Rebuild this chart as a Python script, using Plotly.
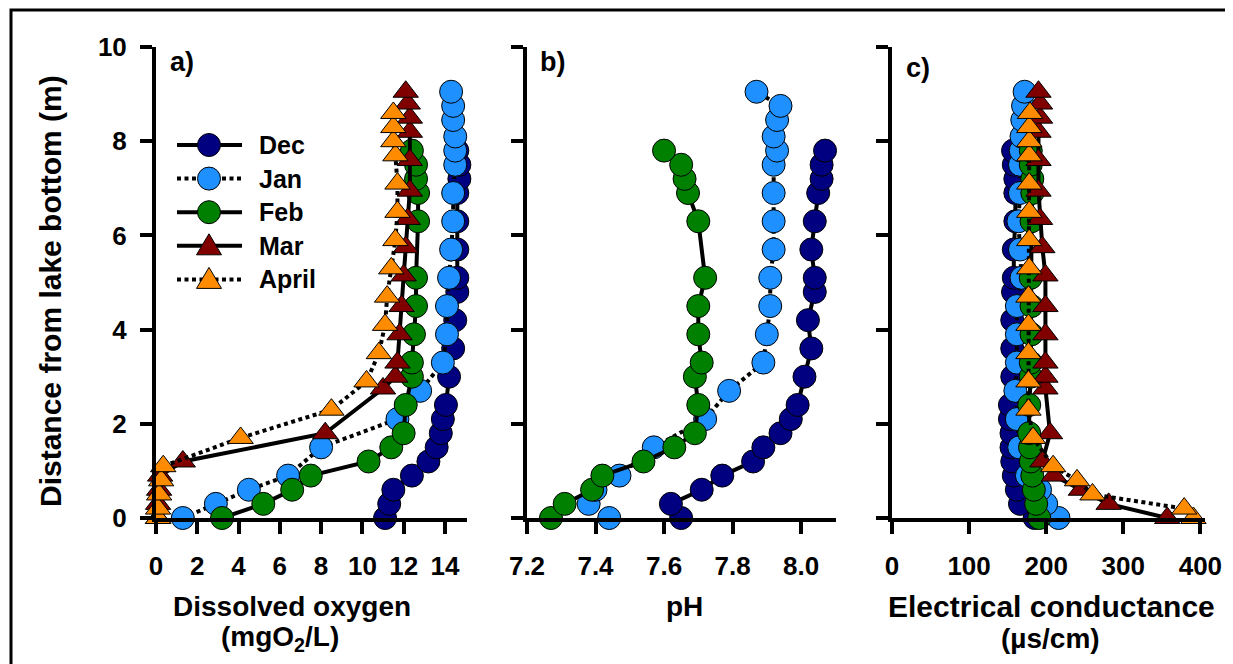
import plotly.graph_objects as go

# The page body has an 8px margin, so the figure is 8px smaller than the window
# and every layout position below is given in window pixels minus that offset.
WIN_W, WIN_H = 1233, 664
OFF = 8
W, H = WIN_W - OFF, WIN_H - OFF
FONT = "Arial, Liberation Sans, sans-serif"

# ---------------- data ----------------
months = ["Dec", "Jan", "Feb", "Mar", "April"]
colors = ["#000080", "#1E90FF", "#008000", "#800000", "#FF8C00"]
symbols = ["circle", "circle", "circle", "triangle-up", "triangle-up"]
dashes = ["solid", "4px,3.5px", "solid", "solid", "4px,3.5px"]

dec_depth = [0, 0.3, 0.6, 0.9, 1.2, 1.5, 1.8, 2.1, 2.4, 3.0, 3.6, 4.2, 4.8, 5.1, 5.7, 6.3, 6.9, 7.2, 7.5, 7.8]
dec_do = [11.1, 11.3, 11.5, 12.4, 13.2, 13.6, 13.8, 13.9, 14.05, 14.2, 14.4, 14.5, 14.6, 14.6, 14.6, 14.6, 14.6, 14.7, 14.7, 14.6]
dec_ph = [7.65, 7.62, 7.71, 7.77, 7.86, 7.89, 7.94, 7.97, 7.99, 8.01, 8.03, 8.02, 8.04, 8.04, 8.03, 8.04, 8.05, 8.06, 8.06, 8.07]
dec_ec = [185, 166, 162, 158, 156, 155, 155, 153, 153, 156, 156, 156, 157, 158, 158, 160, 160, 160, 158, 157]

jan_depth = [0, 0.3, 0.6, 0.9, 1.5, 2.1, 2.7, 3.3, 3.9, 4.5, 5.1, 5.7, 6.3, 6.9, 7.5, 7.8, 8.1, 8.45, 8.75, 9.05]
jan_do = [1.3, 2.9, 4.5, 6.4, 8.0, 11.7, 12.8, 13.9, 14.1, 14.1, 14.2, 14.3, 14.4, 14.4, 14.5, 14.5, 14.5, 14.4, 14.4, 14.3]
jan_ph = [7.44, 7.38, 7.40, 7.47, 7.57, 7.72, 7.79, 7.89, 7.90, 7.91, 7.91, 7.92, 7.92, 7.92, 7.92, 7.93, 7.92, 7.93, 7.94, 7.87]
jan_ec = [216, 200, 192, 175, 165, 162, 160, 162, 162, 162, 168, 166, 164, 166, 166, 167, 168, 169, 170, 172]

feb_depth = [0, 0.3, 0.6, 0.9, 1.2, 1.5, 1.8, 2.4, 3.0, 3.3, 3.9, 4.5, 5.1, 6.3, 6.9, 7.2, 7.5, 7.8]
feb_do = [3.2, 5.2, 6.6, 7.5, 10.3, 11.4, 12.0, 12.1, 12.4, 12.4, 12.5, 12.6, 12.6, 12.7, 12.7, 12.6, 12.6, 12.4]
feb_ph = [7.27, 7.31, 7.39, 7.42, 7.54, 7.63, 7.69, 7.70, 7.69, 7.71, 7.70, 7.70, 7.72, 7.70, 7.67, 7.66, 7.65, 7.60]
feb_ec = [191, 187, 184, 182, 180, 179, 178, 178, 180, 180, 181, 181, 180, 181, 182, 182, 180, 180]

mar_depth = [0, 0.3, 0.6, 0.9, 1.2, 1.8, 2.75, 3.0, 3.3, 3.9, 4.5, 5.15, 5.75, 6.35, 6.95, 7.6, 8.2, 8.5, 8.8, 9.05]
mar_do = [0.1, 0.1, 0.15, 0.2, 1.3, 8.2, 11.0, 11.6, 11.7, 11.8, 11.9, 12.0, 12.1, 12.2, 12.3, 12.3, 12.3, 12.3, 12.2, 12.1]
mar_ec = [357, 281, 245, 210, 195, 205, 199, 199, 199, 199, 199, 199, 195, 192, 190, 190, 190, 192, 192, 190]

apr_depth = [0, 0.2, 0.5, 0.8, 1.1, 1.7, 2.3, 2.9, 3.5, 4.1, 4.7, 5.3, 5.9, 6.5, 7.1, 7.7, 8.0, 8.3, 8.6]
apr_do = [0.1, 0.1, 0.15, 0.25, 0.35, 4.1, 8.5, 10.2, 10.8, 11.1, 11.2, 11.4, 11.6, 11.7, 11.7, 11.6, 11.5, 11.5, 11.5]
apr_ec = [391, 379, 260, 240, 209, 183, 177, 177, 177, 177, 177, 178, 178, 178, 178, 178, 178, 178, 179]

y_ticks = [0, 2, 4, 6, 8, 10]
do_ticks = [0, 2, 4, 6, 8, 10, 12, 14]
ph_ticks = [7.2, 7.4, 7.6, 7.8, 8.0]
ph_ticktext = ["7.2", "7.4", "7.6", "7.8", "8.0"]
ec_ticks = [0, 100, 200, 300, 400]

depths = [dec_depth, jan_depth, feb_depth, mar_depth, apr_depth]
do_vals = [dec_do, jan_do, feb_do, mar_do, apr_do]
ph_vals = [dec_ph, jan_ph, feb_ph, None, None]
ec_vals = [dec_ec, jan_ec, feb_ec, mar_ec, apr_ec]

# ---------------- figure ----------------
def px(x):
    return (x - OFF) / W

def py(y):
    return 1 - (y - OFF) / H

fig = go.Figure()

for panel, (xa, ya, vals) in enumerate([("x", "y", do_vals), ("x2", "y2", ph_vals), ("x3", "y3", ec_vals)]):
    for i, m in enumerate(months):
        if vals[i] is None:
            continue
        sym = symbols[i]
        fig.add_trace(go.Scatter(
            x=vals[i], y=depths[i], xaxis=xa, yaxis=ya, name=m,
            mode="lines+markers", showlegend=False, cliponaxis=False,
            line=dict(color="black", width=4, dash=dashes[i]),
            marker=dict(symbol=sym, size=23 if sym == "circle" else 22,
                        color=colors[i], line=dict(color="black", width=1)),
        ))

dom_y = [py(518), py(47)]
axis_common = dict(showline=True, linecolor="black", linewidth=4, ticks="outside",
                   ticklen=12, tickwidth=4, tickcolor="black", showgrid=False,
                   zeroline=False, mirror=False, automargin=False,
                   tickfont=dict(family=FONT, size=26, color="black", weight="bold"))

fig.update_layout(
    template="none",
    width=W, height=H, margin=dict(l=0, r=0, t=0, b=0, pad=0, autoexpand=False),
    paper_bgcolor="white", plot_bgcolor="white", showlegend=False,
    xaxis=dict(domain=[px(156), px(467)], range=[0, 15.07], anchor="y",
               tickvals=do_ticks, ticklabelstandoff=10, **axis_common),
    xaxis2=dict(domain=[px(527), px(836)], range=[7.2, 8.102], anchor="y2",
                tickvals=ph_ticks, ticktext=ph_ticktext, ticklabelstandoff=10, **axis_common),
    xaxis3=dict(domain=[px(892), px(1205)], range=[0, 406], anchor="y3",
                tickvals=ec_ticks, ticklabelstandoff=10, **axis_common),
    yaxis=dict(domain=dom_y, range=[0, 10], anchor="x", tickvals=y_ticks,
               ticklabelstandoff=8, **axis_common),
    yaxis2=dict(domain=dom_y, range=[0, 10], anchor="x2", tickvals=y_ticks,
                showticklabels=False, **axis_common),
    yaxis3=dict(domain=dom_y, range=[0, 10], anchor="x3", tickvals=y_ticks,
                showticklabels=False, **axis_common),
)

annotations = []
def text(x, y, s, size, xanchor="center", angle=0):
    annotations.append(dict(x=px(x), y=py(y), xref="paper", yref="paper", text=s,
                            showarrow=False, xanchor=xanchor, yanchor="middle",
                            textangle=angle,
                            font=dict(family=FONT, size=size, color="black", weight="bold")))

# axis titles
text(292, 606, "Dissolved oxygen", 28)
text(280, 638, "(mgO<sub>2</sub>/L)", 28)
text(684, 606, "pH", 28)
text(1051, 606, "Electrical conductance", 30)
text(1050, 638, "(\u00b5s/cm)", 28)
text(50, 291, "Distance from lake bottom (m)", 30, angle=-90)
# panel letters
text(168, 62, "a)", 27, xanchor="left")
text(538, 62, "b)", 27, xanchor="left")
text(904, 68, "c)", 27, xanchor="left")

shapes = []
# legend (drawn as layout decoration)
for i, m in enumerate(months):
    yc = 145 + i * 33.6
    shapes.append(dict(type="line", xref="paper", yref="paper",
                       x0=px(177), x1=px(242), y0=py(yc), y1=py(yc),
                       line=dict(color="black", width=4, dash=dashes[i])))
    if symbols[i] == "circle":
        shapes.append(dict(type="circle", xref="paper", yref="paper",
                           x0=px(209 - 11.5), x1=px(209 + 11.5), y0=py(yc + 11.5), y1=py(yc - 11.5),
                           fillcolor=colors[i], line=dict(color="black", width=1)))
    else:
        path = "M {} {} L {} {} L {} {} Z".format(px(209 - 12.5), py(yc + 9), px(209 + 12.5), py(yc + 9),
                                                    px(209), py(yc - 12))
        shapes.append(dict(type="path", xref="paper", yref="paper", path=path,
                           fillcolor=colors[i], line=dict(color="black", width=1)))
    text(257, yc, m, 25, xanchor="left")

# outer frame
shapes.append(dict(type="rect", xref="paper", yref="paper",
                   x0=px(11), x1=px(1227), y0=-0.05, y1=py(10),
                   line=dict(color="black", width=3), fillcolor="rgba(0,0,0,0)", layer="above"))

fig.update_layout(annotations=annotations, shapes=shapes)
fig.write_html("out.html")
